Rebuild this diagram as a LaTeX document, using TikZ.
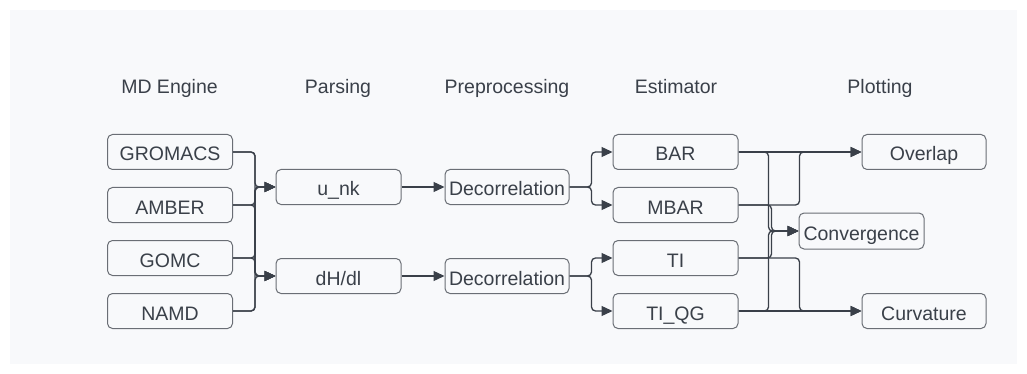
\documentclass[tikz,border=0pt]{standalone}
\usepackage{fontspec}
\setmainfont{Liberation Sans}
\usetikzlibrary{arrows.meta}
\definecolor{panel}{HTML}{F8F9FB}
\definecolor{linec}{HTML}{3A4049}
\definecolor{boxc}{HTML}{6A6E75}
\definecolor{txtc}{HTML}{3A4049}
\begin{document}
\begin{tikzpicture}[x=1pt,y=-1pt,
  box/.style={draw=boxc, line width=1pt, rounded corners=5pt, fill=panel,
    minimum width=125pt, minimum height=35pt, inner sep=0pt, text=txtc,
    text height=18pt, text depth=0pt,
    font=\fontsize{19.5}{22}\selectfont},
  head/.style={text=txtc, font=\fontsize{19.5}{22}\selectfont, inner sep=0pt, anchor=base},
  conn/.style={draw=linec, line width=1.3pt, rounded corners=4pt},
  arr/.style={conn, -{Triangle[length=11pt,width=10pt]}}]
\useasboundingbox (0,0) rectangle (1027,374);
\fill[white] (0,0) rectangle (1027,374);
\fill[panel] (10,10) rectangle (1017,364);
% headers
\node[head] (h1) at (169.5,94) {MD Engine};
\node[head] (h2) at (338,94) {Parsing};
\node[head] (h3) at (507,94) {Preprocessing};
\node[head] (h4) at (676,94) {Estimator};
\node[head] (h5) at (880,94) {Plotting};
% MD engines
\node[box] (gromacs) at (170,152) {GROMACS};
\node[box] (amber) at (170,205) {AMBER};
\node[box] (gomc) at (170,258) {GOMC};
\node[box] (namd) at (170,311) {NAMD};
% parsing
\node[box] (unk) at (338.5,187) {u\_nk};
\node[box] (dhdl) at (338.5,276) {dH/dl};
% preprocessing
\node[box, minimum width=124pt] (dec1) at (507,187) {Decorrelation};
\node[box, minimum width=124pt] (dec2) at (507,276) {Decorrelation};
% estimators
\node[box] (bar) at (675.5,152) {BAR};
\node[box] (mbar) at (675.5,205) {MBAR};
\node[box] (ti) at (675.5,258) {TI};
\node[box] (tiqg) at (675.5,311) {TI\_QG};
% plotting
\node[box, minimum width=124pt] (overlap) at (924,152) {Overlap};
\node[box, minimum height=36pt] (conv) at (861.5,231) {Convergence};
\node[box, minimum width=124pt] (curv) at (924,311) {Curvature};
% engine -> parsing
\foreach \s in {gromacs,amber,gomc,namd}{
  \draw[arr] (\s.east) -- ++(22,0) |- (unk.west);
  \draw[arr] (\s.east) -- ++(22,0) |- (dhdl.west);
}
% parsing -> preprocessing
\draw[arr] (unk.east) -- (dec1.west);
\draw[arr] (dhdl.east) -- (dec2.west);
% preprocessing -> estimators
\draw[arr] (dec1.east) -- ++(22,0) |- (bar.west);
\draw[arr] (dec1.east) -- ++(22,0) |- (mbar.west);
\draw[arr] (dec2.east) -- ++(22,0) |- (ti.west);
\draw[arr] (dec2.east) -- ++(22,0) |- (tiqg.west);
% estimators -> plotting
\draw[arr] (bar.east) -- (overlap.west);
\draw[arr] (mbar.east) -- ++(61,0) |- (overlap.west);
\draw[arr] (bar.east) -- ++(30,0) |- (conv.west);
\draw[arr] (mbar.east) -- ++(33,0) |- (conv.west);
\draw[arr] (ti.east) -- ++(33,0) |- (conv.west);
\draw[arr] (tiqg.east) -- ++(30,0) |- (conv.west);
\draw[arr] (ti.east) -- ++(61,0) |- (curv.west);
\draw[arr] (tiqg.east) -- (curv.west);
\end{tikzpicture}
\end{document}
